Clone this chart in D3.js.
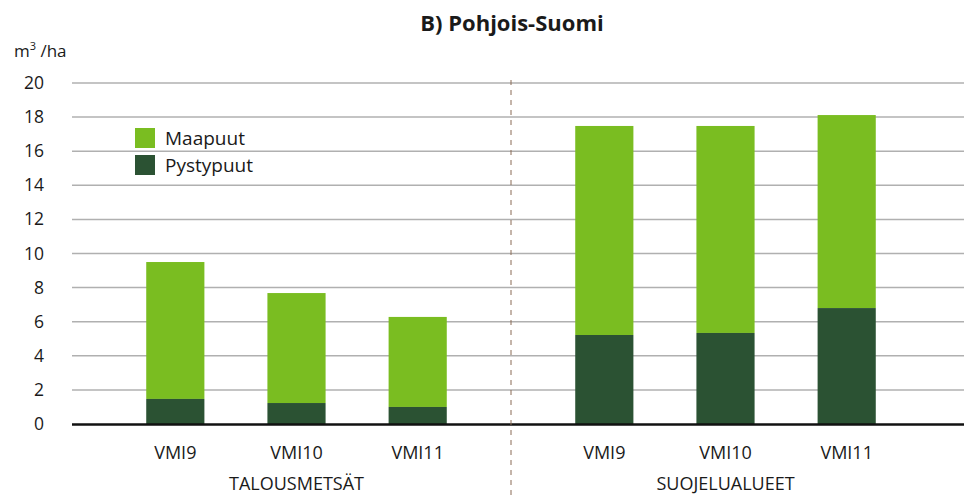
<!DOCTYPE html>
<html><head><meta charset="utf-8">
<script src="https://cdn.jsdelivr.net/npm/d3@7"></script>
<style>body{margin:0;background:#fff}svg{display:block}text{font-family:"Open Sans","Noto Sans",sans-serif;fill:#1a1a1a}</style>
</head><body><svg id="c" width="964" height="496"></svg>
<script>
const groups = ["TALOUSMETSÄT", "SUOJELUALUEET"];
const periods = ["VMI9", "VMI10", "VMI11"];
const pystypuut = [[1.47, 1.23, 1.0], [5.22, 5.34, 6.8]];
const maapuut = [[8.03, 6.45, 5.28], [12.26, 12.14, 11.32]];
const yTicks = [0, 2, 4, 6, 8, 10, 12, 14, 16, 18, 20];
const seriesNames = ["Maapuut", "Pystypuut"];
const colors = {Maapuut: "#7abd21", Pystypuut: "#2b5233"};

const svg = d3.select("#c");
const y = d3.scaleLinear().domain([0, 20]).range([424, 83]);
const x0 = d3.scaleBand().domain(groups).range([82, 940]);
const x1 = d3.scaleBand().domain(periods).range([0, x0.bandwidth()]).paddingInner(0.52).paddingOuter(0.53);

svg.append("text").attr("x", 512).attr("y", 31).attr("text-anchor", "middle")
  .style("font-size", "22px").style("font-weight", "bold").text("B) Pohjois-Suomi");

const unit = svg.append("text").attr("x", 14).attr("y", 57).style("font-size", "17px");
unit.append("tspan").text("m");
unit.append("tspan").attr("dy", -7).style("font-size", "11px").text("3");
unit.append("tspan").attr("dy", 7).text(" /ha");

// gridlines
svg.append("g").selectAll("line").data(yTicks.filter(d => d > 0)).join("line")
  .attr("x1", 72).attr("x2", 964).attr("y1", d => y(d)).attr("y2", d => y(d))
  .attr("stroke", "#b0b0b0").attr("stroke-width", 1.5);

// y axis labels
svg.append("g").selectAll("text").data(yTicks).join("text")
  .attr("x", 44).attr("y", d => y(d) + 6).attr("text-anchor", "end")
  .style("font-size", "17.5px").text(d => d);

// bars
groups.forEach((g, gi) => {
  periods.forEach((p, pi) => {
    const bx = x0(g) + x1(p);
    const pv = pystypuut[gi][pi], mv = maapuut[gi][pi];
    svg.append("rect").attr("x", bx).attr("width", x1.bandwidth())
      .attr("y", y(pv + mv)).attr("height", y(pv) - y(pv + mv)).attr("fill", colors.Maapuut);
    svg.append("rect").attr("x", bx).attr("width", x1.bandwidth())
      .attr("y", y(pv)).attr("height", y(0) - y(pv)).attr("fill", colors.Pystypuut);
    svg.append("text").attr("x", bx + x1.bandwidth() / 2).attr("y", 459)
      .attr("text-anchor", "middle").style("font-size", "18px").text(p);
  });
  svg.append("text").attr("x", x0(g) + x0.bandwidth() / 2).attr("y", 490)
    .attr("text-anchor", "middle").style("font-size", "18px").text(g);
});

// baseline
svg.append("line").attr("x1", 72).attr("x2", 964).attr("y1", y(0) + 0.5).attr("y2", y(0) + 0.5)
  .attr("stroke", "#111").attr("stroke-width", 2.5);

// divider
const dx = x0(groups[1]);
svg.append("line").attr("x1", dx).attr("x2", dx).attr("y1", 80).attr("y2", 496)
  .attr("stroke", "#8a6a55").attr("stroke-width", 1).attr("stroke-dasharray", "5,5");

// legend
const leg = svg.append("g");
seriesNames.forEach((s, i) => {
  leg.append("rect").attr("x", 135).attr("y", 128 + i * 27).attr("width", 20).attr("height", 20).attr("fill", colors[s]);
  leg.append("text").attr("x", 165).attr("y", 145 + i * 27).style("font-size", "19px").text(s);
});
</script></body></html>
